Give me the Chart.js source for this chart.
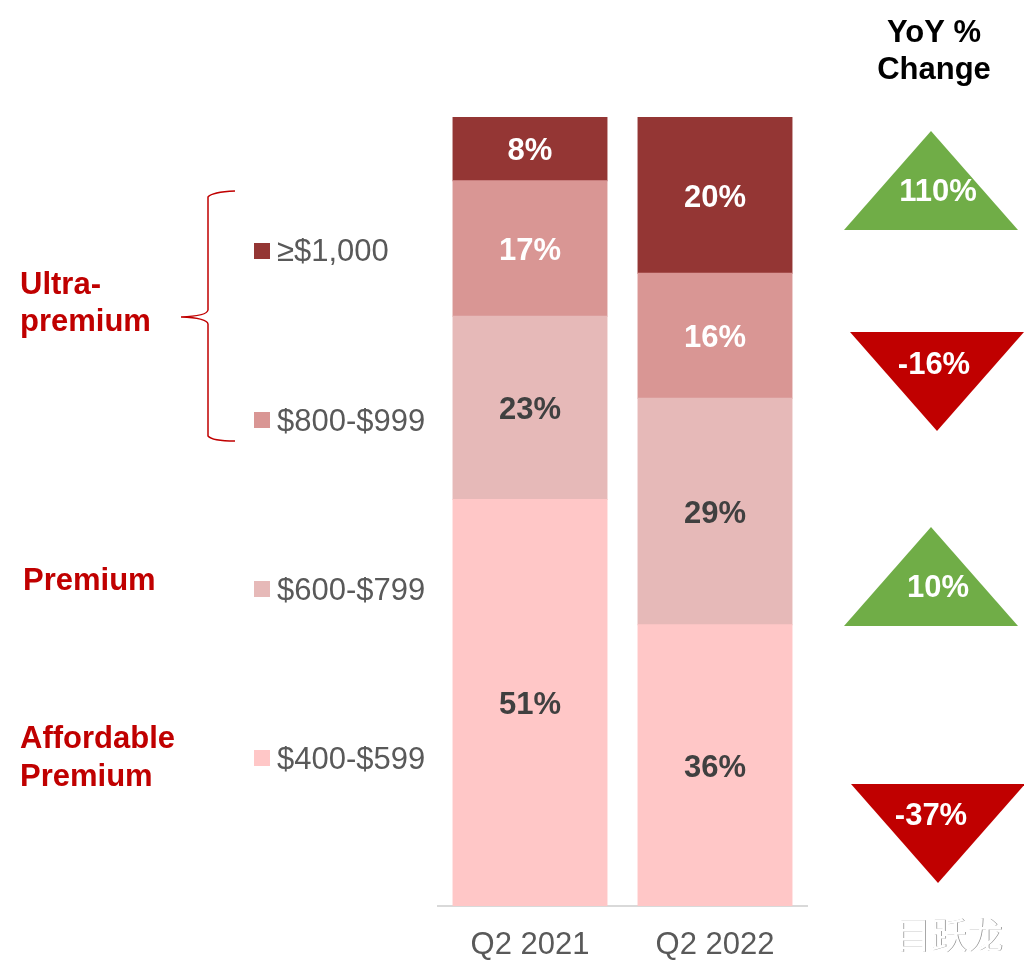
<!DOCTYPE html>
<html><head><meta charset="utf-8">
<style>html,body{margin:0;padding:0;background:#fff}canvas{display:block}</style>
<script src="https://cdn.jsdelivr.net/npm/chart.js@4"></script></head>
<body><canvas id="c" width="1024" height="980"></canvas>
<script>
const categories = ["Q2 2021","Q2 2022"];
const tierNames = ["$400-$599","$600-$799","$800-$999","≥$1,000"];
const tier400 = [51,36];
const tier600 = [23,29];
const tier800 = [17,16];
const tier1000 = [8,20];
const tierValues = [tier400,tier600,tier800,tier1000];
const tierColors = ["#FFC7C7","#E6B9B8","#D99694","#943634"];
const labelColors = ["#404040","#404040","#FFFFFF","#FFFFFF"];
const yoyLabels = ["110%","-16%","10%","-37%"];
const FONT = '"Liberation Sans", Arial, sans-serif';
const totals = categories.map((_,i)=>tierValues.reduce((s,a)=>s+a[i],0));

const overlay = {
  id:'overlay',
  afterDatasetsDraw(chart){
    const ctx = chart.ctx;
    const text = (t,x,y,font,color,align='left')=>{
      ctx.font = font+' '+FONT; ctx.fillStyle=color; ctx.textAlign=align; ctx.textBaseline='middle'; ctx.fillText(t,x,y+2);
    };
    tierValues.forEach((vals,d)=>{
      chart.getDatasetMeta(d).data.forEach((bar,i)=>{
        text(vals[i]+'%',bar.x,(bar.y+bar.base)/2+1,'bold 31px',labelColors[d],'center');
      });
    });
    const legendY = [758,589,420,250];
    const swatchY = [758,589,420,251];
    tierNames.forEach((n,i)=>{
      ctx.fillStyle=tierColors[i];
      ctx.fillRect(254,swatchY[i]-8,16,16);
      text(n,277,legendY[i],'31px','#595959');
    });
    const red='#C00000';
    text('Ultra-',20,283,'bold 31px',red);
    text('premium',20,320,'bold 31px',red);
    text('Premium',23,579,'bold 31px',red);
    text('Affordable',20,737,'bold 31px',red);
    text('Premium',20,775,'bold 31px',red);
    ctx.strokeStyle=red; ctx.lineWidth=1.5; ctx.beginPath();
    ctx.moveTo(235,191);
    ctx.quadraticCurveTo(212,192,208,197);
    ctx.lineTo(208,310);
    ctx.quadraticCurveTo(207,316,181,317);
    ctx.quadraticCurveTo(207,318,208,324);
    ctx.lineTo(208,436);
    ctx.quadraticCurveTo(212,441,235,441);
    ctx.stroke();
    text('YoY %',934,31,'bold 31px','#000','center');
    text('Change',934,68,'bold 31px','#000','center');
    const tri=[
      [[844,230],[931,131],[1018,230],'#70AD47',[938,190]],
      [[850,332],[1024,332],[937,431],red,[934,363]],
      [[844,626],[931,527],[1018,626],'#70AD47',[938,586]],
      [[851,784],[1025,784],[938,883],red,[931,814]]
    ];
    tri.forEach((t,i)=>{
      ctx.fillStyle=t[3]; ctx.beginPath();
      ctx.moveTo(...t[0]); ctx.lineTo(...t[1]); ctx.lineTo(...t[2]); ctx.closePath(); ctx.fill();
      text(yoyLabels[i],t[4][0],t[4][1],'bold 31px','#FFFFFF','center');
    });
    ctx.font='36px "Noto Sans CJK SC"'; ctx.textAlign='left'; ctx.textBaseline='middle';
    ctx.fillStyle='#888888'; ctx.fillText('目跃龙',895.8,935.8);
    ctx.fillStyle='#FFFFFF'; ctx.fillText('目跃龙',895,935);
  }
};

new Chart(document.getElementById('c'),{
  type:'bar',
  data:{
    labels:categories,
    datasets:tierNames.map((n,d)=>({
      label:n,
      data:tierValues[d].map((v,i)=>v/totals[i]*100),
      backgroundColor:tierColors[d],
      borderWidth:0,
      inflateAmount:0.5,
      barPercentage:1,
      categoryPercentage:0.832
    }))
  },
  plugins:[overlay],
  options:{
    responsive:false,
    animation:false,
    devicePixelRatio:1,
    layout:{padding:{left:437.5,right:216.5,top:117,bottom:0}},
    plugins:{legend:{display:false},title:{display:false},tooltip:{enabled:false}},
    scales:{
      x:{
        stacked:true,
        afterFit(s){s.height=74;},
        grid:{display:false},
        border:{display:true,color:'#D9D9D9',width:2},
        ticks:{color:'#595959',font:{family:FONT,size:31},padding:13,maxRotation:0}
      },
      y:{stacked:true,min:0,max:100,display:false}
    }
  }
});
</script></body></html>
